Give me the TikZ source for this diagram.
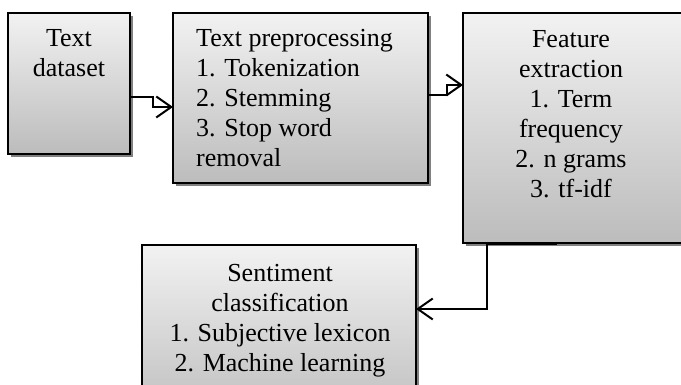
\documentclass[tikz,border=0pt]{standalone}
\usepackage{fontspec}
\setmainfont{Liberation Serif}
\usetikzlibrary{shadows,arrows.meta}
\definecolor{boxtop}{RGB}{242,242,242}
\definecolor{boxbottom}{RGB}{188,188,188}
\definecolor{shadowgray}{RGB}{128,128,128}
\tikzset{
  stagebox/.style={draw=black, line width=1.3pt, rectangle, inner sep=0pt, outer sep=0pt,
    top color=boxtop, bottom color=boxbottom,
    drop shadow={shadow xshift=3pt, shadow yshift=-3pt, fill=shadowgray, opacity=1}},
  stagetext/.style={inner sep=0pt, font=\fontsize{26}{30}\selectfont},
  flow/.style={line width=1.6pt, -{Straight Barb[length=15pt,width=21pt,line width=2pt]}}
}
\begin{document}
\begin{tikzpicture}[x=1pt,y=-1pt]
\useasboundingbox (0,0) rectangle (681,385);
\clip (0,0) rectangle (681,385);

% boxes (pixel coordinates, y downwards)
\node[stagebox, minimum width=122pt, minimum height=141pt] (b1) at (69,83.5) {};
\node[stagebox, minimum width=255pt, minimum height=170pt] (b2) at (300.5,98) {};
\node[stagebox, minimum width=240pt, minimum height=230pt] (b3) at (583,128) {};
\node[stagebox, minimum width=274pt, minimum height=180pt] (b4) at (279,335) {};

% box texts
\node[stagetext, align=center, anchor=north] (t1) at (69,29) {Text\\dataset};
\node[stagetext, align=left, anchor=north west] (t2) at (196,29)
  {Text preprocessing\\1. Tokenization\\2. Stemming\\3. Stop word\\removal};
\node[stagetext, align=center, anchor=north] (t3) at (571,30)
  {Feature\\extraction\\1. Term\\frequency\\2. n grams\\3. tf-idf};
\node[stagetext, align=center, anchor=north] (t4) at (280,264)
  {Sentiment\\classification\\1. Subjective lexicon\\2. Machine learning};

% connectors
\coordinate (k1) at (153,97);
\coordinate (k2) at (153,107);
\draw[flow] (b1.east |- k1) -- (k1) -- (k2) -- (b2.west |- k2);

\coordinate (k3) at (447,95);
\coordinate (k4) at (447,85);
\draw[flow] (b2.east |- k3) -- (k3) -- (k4) -- (b3.west |- k4);

\coordinate (k5) at (557,244);
\coordinate (k6) at (487,244);
\coordinate (k7) at (487,309);
\draw[flow] (k5) -- (k6) -- (k7) -- (b4.east |- k7);
\end{tikzpicture}
\end{document}
